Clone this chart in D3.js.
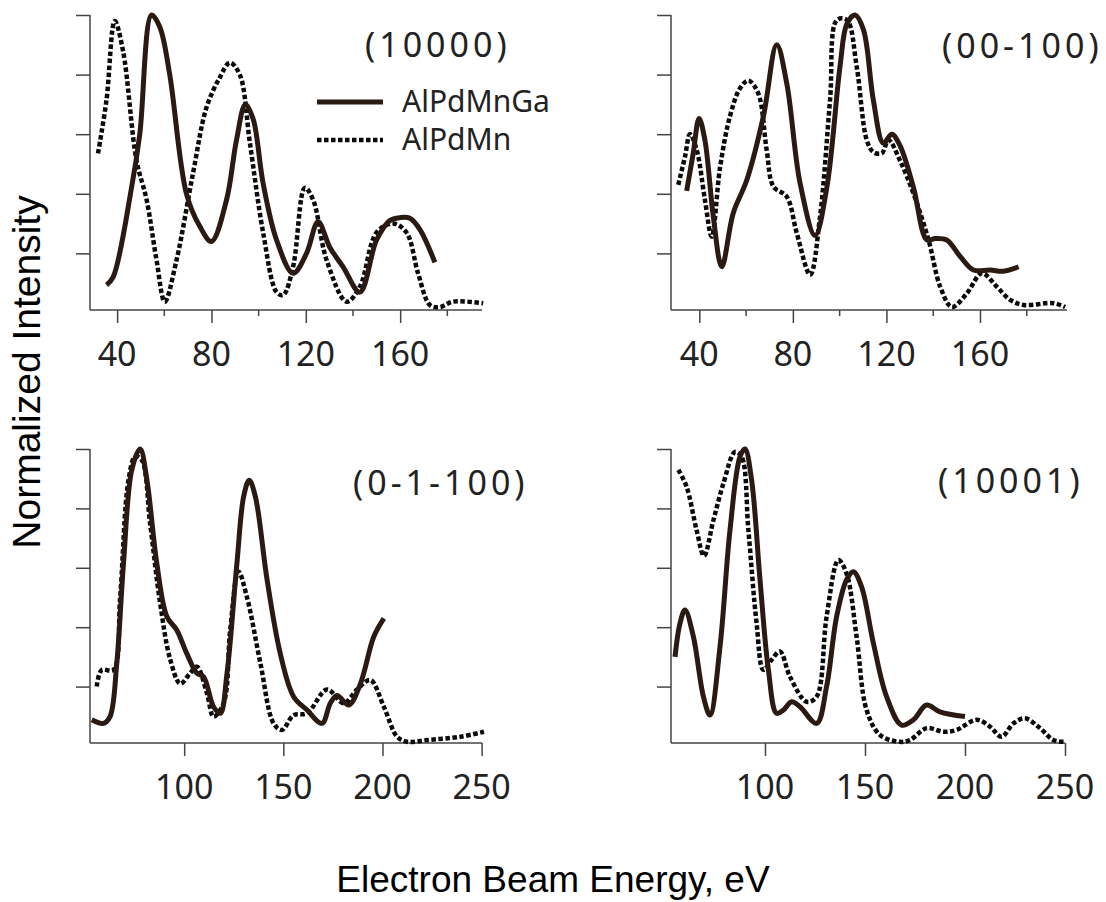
<!DOCTYPE html>
<html>
<head>
<meta charset="utf-8">
<script src="https://cdn.jsdelivr.net/npm/d3@7"></script>
<style>
  body { margin: 0; background: #fff; }
  svg { display: block; }
  .axis path, .axis line { stroke: #444; stroke-width: 1.5; }
  .tick-label { font-family: "Noto Sans", sans-serif; font-size: 34px; fill: #222; }
  .panel-title { font-family: "Noto Sans", sans-serif; font-size: 34px; fill: #222; letter-spacing: 4px; }
  .legend-text { font-family: "Noto Sans", sans-serif; font-size: 30px; fill: #222; }
  .axis-title { font-family: "Liberation Sans", Arial, sans-serif; font-size: 37px; fill: #000; }
</style>
</head>
<body>
<div id="chart"></div>
<script>
// LEED I(V) curves, four surface orientations, two alloys
// [energy eV, normalized intensity]

const SERIES = ["AlPdMnGa", "AlPdMn"];

// (10000)
const p1Ga = [[35.5,0.094],[38.3,0.12],[46.1,0.42],[49.6,0.60],[54.6,1.0],[58.1,0.96],[62.3,0.80],
  [69.4,0.40],[75.1,0.29],[80,0.24],[86.4,0.38],[90.6,0.58],[94.4,0.70],[97.7,0.65],[101.9,0.435],
  [107.6,0.245],[114.6,0.133],[120.3,0.20],[125.2,0.306],[130.2,0.22],[135.8,0.155],[142.9,0.07],
  [150,0.245],[155.6,0.31],[160,0.32],[164.1,0.318],[168.4,0.28],[174.7,0.17]];
const p1Mn = [[31.9,0.536],[35.5,0.715],[39,0.98],[42.5,0.88],[48.2,0.513],[52.5,0.38],[56.7,0.178],
  [60.2,0.038],[65.2,0.178],[72.2,0.47],[77.9,0.69],[83.5,0.79],[87.8,0.84],[92,0.80],[96.3,0.57],
  [101.9,0.27],[107.6,0.07],[110.4,0.06],[114.6,0.155],[119.6,0.42],[123.1,0.38],[128.8,0.178],
  [137.3,0.038],[142.9,0.088],[150,0.27],[157,0.30],[162.7,0.27],[167.6,0.133],[172.6,0.027],
  [176.8,0.02],[182.5,0.038],[195.2,0.033]];

// (00-100)
const p2Ga = [[34.6,0.41],[37.4,0.536],[39.9,0.653],[42.4,0.58],[46,0.323],[49.6,0.155],[54.5,0.335],
  [60.3,0.446],[67.4,0.66],[73.1,0.90],[77.4,0.77],[83.1,0.435],[89.5,0.26],[94.5,0.42],[100.2,0.83],
  [103.1,0.97],[106.6,1.0],[110.2,0.95],[114.4,0.715],[118.7,0.57],[122.3,0.60],[125.9,0.56],
  [131.6,0.42],[137.3,0.245],[140.8,0.25],[145.8,0.245],[151.5,0.19],[157.2,0.144],[164.4,0.144],
  [170,0.14],[176.5,0.155]];
const p2Mn = [[31,0.43],[33.9,0.525],[36,0.60],[38.9,0.547],[42.4,0.38],[45.3,0.256],[48.9,0.49],
  [53.1,0.66],[57.4,0.754],[61,0.78],[65.2,0.737],[68.8,0.547],[71.7,0.424],[77.4,0.39],[81.7,0.267],
  [87.4,0.128],[91.6,0.323],[95.9,0.715],[98.8,0.983],[103.1,0.983],[107.3,0.826],[111.6,0.58],
  [114.4,0.54],[118,0.536],[120.9,0.58],[125.9,0.51],[131.6,0.40],[138,0.245],[143,0.088],[148,0.02],
  [154.4,0.066],[160.8,0.133],[167.2,0.088],[172.9,0.044],[178.6,0.027],[191.4,0.033],[196.4,0.02]];

// (0-1-100)
const p3Ga = [[53.4,0.088],[59.2,0.076],[62.6,0.099],[66,0.278],[69.4,0.615],[73.6,0.93],[77.8,1.0],
  [81.2,0.896],[86.2,0.615],[91.3,0.435],[96.3,0.39],[101.4,0.31],[106.4,0.245],[109.8,0.233],
  [114.8,0.132],[118.2,0.11],[121.6,0.245],[126.6,0.615],[130,0.84],[132.8,0.895],[135.9,0.84],
  [141.8,0.56],[148.5,0.31],[155.2,0.166],[162,0.121],[169.5,0.076],[173.7,0.144],[177.1,0.17],
  [183,0.138],[188.9,0.21],[195.6,0.368],[200.7,0.43]];
const p3Mn = [[55.9,0.20],[58.4,0.256],[64.3,0.256],[67.7,0.50],[71.9,0.895],[75.3,0.974],[78.6,0.963],
  [82.8,0.75],[87.9,0.48],[93,0.29],[98,0.21],[103,0.245],[106.4,0.267],[111.5,0.177],[114.8,0.099],
  [119.9,0.144],[123.2,0.39],[127.4,0.587],[131.7,0.50],[138.4,0.28],[145.1,0.076],[149.3,0.054],
  [155.2,0.104],[162,0.11],[172,0.19],[180.5,0.144],[187.2,0.19],[193.9,0.222],[200.7,0.132],
  [207.4,0.031],[212.5,0.014],[222.6,0.02],[239.4,0.031],[251.2,0.048]];

// (10001)
const p4Ga = [[55,0.30],[57.5,0.413],[60,0.458],[64.2,0.368],[69.2,0.166],[72.5,0.104],[77.5,0.334],
  [82.5,0.727],[87.5,0.974],[90,1.0],[93.3,0.896],[97.5,0.56],[101.7,0.256],[105.8,0.11],[109.2,0.121],
  [113.3,0.149],[117.5,0.132],[125.8,0.076],[130.8,0.20],[135.8,0.435],[140.8,0.56],[144.2,0.587],
  [148.3,0.536],[154.2,0.346],[160.8,0.166],[168.3,0.07],[174.2,0.088],[180.8,0.138],[187.5,0.115],
  [200,0.099]];
const p4Mn = [[56.7,0.93],[60.8,0.873],[65.8,0.727],[69.5,0.64],[74.2,0.76],[79.2,0.884],[85,0.99],
  [88.3,0.974],[91.7,0.727],[95.8,0.413],[99.2,0.256],[103.3,0.29],[107.5,0.318],[112.5,0.233],
  [120.8,0.149],[125.8,0.166],[130.8,0.435],[136.7,0.626],[140.8,0.58],[145.8,0.368],[150.8,0.121],
  [157.5,0.037],[167.5,0.014],[172.5,0.02],[180.8,0.06],[189.2,0.048],[195.8,0.054],[205.8,0.088],
  [212.5,0.065],[218.3,0.031],[224.2,0.076],[230,0.093],[237.5,0.06],[244.2,0.02],[250,0.014]];

const yTicks = [0.2, 0.4, 0.6, 0.8, 1.0];
const topMajor = [40, 80, 120, 160];
const topMinor = [60, 100, 140, 180];
const botMajor = [100, 150, 200, 250];

const panels = [
  { title: "(10000)", ga: p1Ga, mn: p1Mn, xDom: [28.5, 194.7], major: topMajor, minor: topMinor,
    left: 90, top: 15, w: 392, h: 295, titleX: 365, titleY: 57 },
  { title: "(00-100)", ga: p2Ga, mn: p2Mn, xDom: [27.9, 197.2], major: topMajor, minor: topMinor,
    left: 671, top: 15, w: 396, h: 295, titleX: 942, titleY: 58 },
  { title: "(0-1-100)", ga: p3Ga, mn: p3Mn, xDom: [52.5, 250.2], major: botMajor, minor: [],
    left: 90, top: 449, w: 392, h: 294, titleX: 353, titleY: 495 },
  { title: "(10001)", ga: p4Ga, mn: p4Mn, xDom: [53, 250], major: botMajor, minor: [],
    left: 671, top: 449, w: 394, h: 294, titleX: 938, titleY: 493 },
];

const W = 1106, H = 902;
const svg = d3.select("#chart").append("svg").attr("width", W).attr("height", H);

const SOLID = "#2b1a12";
const DOT = "#0a0a0a";
const SOLID_W = 5, DOT_W = 4.5, DOT_DASH = "4.5,2.5";

panels.forEach((p) => {
  const g = svg.append("g").attr("transform", `translate(${p.left},${p.top})`);
  const x = d3.scaleLinear().domain(p.xDom).range([0, p.w]);
  const y = d3.scaleLinear().domain([0.01, 1]).range([p.h, 0]);

  // y axis: ticks only, no labels
  g.append("g").attr("class", "axis")
    .call(d3.axisLeft(y).tickValues(yTicks).tickSize(14).tickFormat("").tickSizeOuter(0))
    .call((a) => a.select(".domain").attr("d", `M0,0V${p.h}`));

  // x axis: major ticks with labels, short minor ticks
  const xa = g.append("g").attr("class", "axis").attr("transform", `translate(0,${p.h})`)
    .call(d3.axisBottom(x).tickValues(p.major).tickSize(13).tickFormat("").tickSizeOuter(0));
  xa.select(".domain").attr("d", `M0,0H${p.w}`);
  xa.selectAll(".minor").data(p.minor).enter().append("line")
    .attr("x1", (d) => x(d)).attr("x2", (d) => x(d)).attr("y1", 0).attr("y2", 6)
    .attr("stroke", "#444").attr("stroke-width", 1.5);
  g.selectAll(".tick-label").data(p.major).enter().append("text")
    .attr("class", "tick-label")
    .attr("x", (d) => x(d)).attr("y", p.h + 56)
    .attr("text-anchor", "middle").text((d) => d);

  const line = d3.line().x((d) => x(d[0])).y((d) => y(d[1]))
    .curve(d3.curveCatmullRom.alpha(0.5));

  g.append("path").datum(p.mn).attr("d", line).attr("fill", "none")
    .attr("stroke", DOT).attr("stroke-width", DOT_W).attr("stroke-dasharray", DOT_DASH);
  g.append("path").datum(p.ga).attr("d", line).attr("fill", "none")
    .attr("stroke", SOLID).attr("stroke-width", SOLID_W).attr("stroke-linejoin", "round");

  svg.append("text").attr("class", "panel-title")
    .attr("x", p.titleX).attr("y", p.titleY).text(p.title);
});

// legend inside first panel
const legend = svg.append("g").attr("transform", "translate(317,102)");
SERIES.forEach((s, i) => {
  const row = legend.append("g").attr("transform", `translate(0,${i * 38})`);
  row.append("line").attr("x1", 0).attr("x2", 66).attr("y1", 0).attr("y2", 0)
    .attr("stroke", i === 0 ? SOLID : DOT).attr("stroke-width", i === 0 ? SOLID_W : DOT_W)
    .attr("stroke-dasharray", i === 0 ? null : DOT_DASH);
  row.append("text").attr("class", "legend-text").attr("x", 85).attr("y", 10).text(s);
});

// axis titles
svg.append("text").attr("class", "axis-title")
  .attr("transform", "translate(40,372)rotate(-90)")
  .attr("text-anchor", "middle").style("font-size", "39px").text("Normalized Intensity");
svg.append("text").attr("class", "axis-title")
  .attr("x", 553).attr("y", 892)
  .attr("text-anchor", "middle").text("Electron Beam Energy, eV");
</script>
</body>
</html>
